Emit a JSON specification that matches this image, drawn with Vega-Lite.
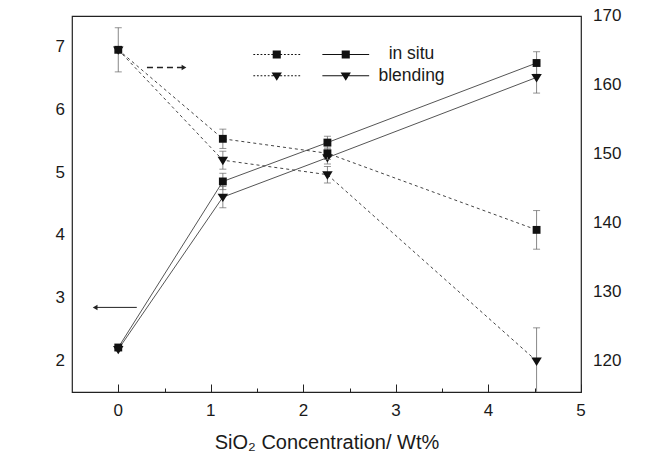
{
  "$schema": "https://vega.github.io/schema/vega-lite/v6.json",
  "width": 509,
  "height": 376,
  "autosize": "none",
  "padding": {"left": 72, "top": 16, "right": 68, "bottom": 73},
  "background": "white",
  "config": {
    "view": {"stroke": "#222", "strokeWidth": 1.2},
    "axis": {"grid": false, "domain": false, "tickColor": "#222", "zindex": 1},
    "text": {"font": "Liberation Sans", "fontSize": 17, "color": "#1a1a1a"}
  },
  "datasets": {
    "tensile": [
      {"x": 0, "v": 2.21, "series": "in situ"},
      {"x": 1.13, "v": 4.86, "lo": 4.73, "hi": 4.99, "series": "in situ"},
      {"x": 2.26, "v": 5.48, "lo": 5.38, "hi": 5.58, "series": "in situ"},
      {"x": 4.52, "v": 6.75, "lo": 6.57, "hi": 6.93, "series": "in situ"},
      {"x": 0, "v": 2.18, "series": "blending"},
      {"x": 1.13, "v": 4.61, "lo": 4.44, "hi": 4.78, "series": "blending"},
      {"x": 2.26, "v": 5.24, "lo": 5.14, "hi": 5.34, "series": "blending"},
      {"x": 4.52, "v": 6.52, "lo": 6.27, "hi": 6.77, "series": "blending"}
    ],
    "elong": [
      {"x": 0, "v": 165.1, "lo": 161.9, "hi": 168.3, "series": "in situ"},
      {"x": 1.13, "v": 152.2, "lo": 150.8, "hi": 153.6, "series": "in situ"},
      {"x": 2.26, "v": 150.1, "lo": 149.2, "hi": 151.0, "series": "in situ"},
      {"x": 4.52, "v": 139.0, "lo": 136.2, "hi": 141.8, "series": "in situ"},
      {"x": 0, "v": 165.1, "series": "blending"},
      {"x": 1.13, "v": 149.1, "lo": 147.8, "hi": 150.4, "series": "blending"},
      {"x": 2.26, "v": 147.0, "lo": 145.8, "hi": 148.2, "series": "blending"},
      {"x": 4.52, "v": 120.0, "lo": 115.2, "hi": 124.8, "series": "blending"}
    ],
    "arrows": [
      {"start": 0.2, "end": -0.25, "y": 2.85, "dir": "left"},
      {"start": 0.31, "end": 0.71, "y": 6.68, "dir": "right"}
    ],
    "xlabels": [
      {"t": 0, "s": "0"}, {"t": 1, "s": "1"}, {"t": 2, "s": "2"},
      {"t": 3, "s": "3"}, {"t": 4, "s": "4"}, {"t": 5, "s": "5"}
    ],
    "ylabels": [
      {"t": 2, "s": "2"}, {"t": 3, "s": "3"}, {"t": 4, "s": "4"},
      {"t": 5, "s": "5"}, {"t": 6, "s": "6"}, {"t": 7, "s": "7"}
    ],
    "rlabels": [
      {"t": 120, "s": "120"}, {"t": 130, "s": "130"}, {"t": 140, "s": "140"},
      {"t": 150, "s": "150"}, {"t": 160, "s": "160"}, {"t": 170, "s": "170"}
    ]
  },
  "layer": [
    {
      "data": {"name": "tensile"},
      "encoding": {
        "x": {
          "field": "x", "type": "quantitative",
          "scale": {"domain": [-0.5, 5], "nice": false, "zero": false},
          "axis": {"orient": "bottom", "title": null, "labels": false, "values": [0, 1, 2, 3, 4, 5], "tickSize": -8}
        }
      },
      "layer": [
        {
          "mark": {"type": "line", "color": "#555", "strokeWidth": 1},
          "encoding": {
            "y": {
              "field": "v", "type": "quantitative",
              "scale": {"domain": [1.5, 7.5], "nice": false, "zero": false},
              "axis": {
                "orient": "left", "title": "tensile strength/ MPa", "labels": false,
                "values": [2.5, 3.5, 4.5, 5.5, 6.5], "tickSize": -5,
                "titleFont": "Liberation Sans", "titleFontSize": 20, "titleFontWeight": "normal", "titleColor": "#1a1a1a",
                "titlePadding": 39
              }
            },
            "detail": {"field": "series"}
          }
        },
        {
          "mark": {"type": "rule", "color": "#888", "strokeWidth": 1, "clip": true},
          "encoding": {
            "y": {"field": "lo", "type": "quantitative", "scale": {"domain": [1.5, 7.5], "nice": false, "zero": false}, "axis": null},
            "y2": {"field": "hi"}
          }
        },
        {
          "mark": {"type": "tick", "orient": "horizontal", "size": 7, "thickness": 1, "color": "#666"},
          "encoding": {"y": {"field": "lo", "type": "quantitative", "scale": {"domain": [1.5, 7.5], "nice": false, "zero": false}, "axis": null}}
        },
        {
          "mark": {"type": "tick", "orient": "horizontal", "size": 7, "thickness": 1, "color": "#666"},
          "encoding": {"y": {"field": "hi", "type": "quantitative", "scale": {"domain": [1.5, 7.5], "nice": false, "zero": false}, "axis": null}}
        },
        {
          "transform": [{"filter": "datum.series === 'in situ'"}],
          "mark": {"type": "point", "filled": true, "size": 110, "color": "#111", "opacity": 1, "shape": "M-0.75,-0.75H0.75V0.75H-0.75Z"},
          "encoding": {"y": {"field": "v", "type": "quantitative", "scale": {"domain": [1.5, 7.5], "nice": false, "zero": false}, "axis": null}}
        },
        {
          "transform": [{"filter": "datum.series === 'blending'"}],
          "mark": {"type": "point", "filled": true, "size": 110, "color": "#111", "opacity": 1, "shape": "M-1,-0.65H1L0,0.95Z"},
          "encoding": {"y": {"field": "v", "type": "quantitative", "scale": {"domain": [1.5, 7.5], "nice": false, "zero": false}, "axis": null}}
        },
        {
          "mark": {"type": "point", "filled": true, "size": 81, "color": "#111", "opacity": 0},
          "encoding": {
            "y": {"field": "v", "type": "quantitative", "scale": {"domain": [1.5, 7.5], "nice": false, "zero": false}, "axis": null},
            "shape": {
              "field": "series", "type": "nominal",
              "scale": {"domain": ["in situ", "blending"], "range": ["M-5.2,-0.11H-0.9V0.11H-5.2ZM0.9,-0.11H5.2V0.11H0.9ZM-0.9,-0.9H0.9V0.9H-0.9Z", "M-5.2,-0.11H-0.7V0.11H-5.2ZM0.7,-0.11H5.2V0.11H0.7ZM-1.15,-0.75H1.15L0,1.1Z"]},
              "legend": {
                "orient": "none", "legendX": 265, "legendY": 29.7, "title": null,
                "symbolSize": 81, "symbolOpacity": 1, "symbolFillColor": "#111",
                "labelFontSize": 17.5, "labelFont": "Liberation Sans", "labelColor": "#1a1a1a",
                "labelAlign": "center", "labelOffset": 57, "rowPadding": 2.3
              }
            }
          }
        }
      ]
    },
    {
      "data": {"name": "elong"},
      "encoding": {
        "x": {
          "field": "x", "type": "quantitative",
          "scale": {"domain": [-0.5, 5], "nice": false, "zero": false},
          "axis": {
            "orient": "bottom", "title": "SiO₂ Concentration/ Wt%", "labels": false,
            "titleFont": "Liberation Sans", "titleFontSize": 20, "titleFontWeight": "normal", "titleColor": "#1a1a1a",
            "titlePadding": 40,
            "values": [0.5, 1.5, 2.5, 3.5, 4.5], "tickSize": -4
          }
        }
      },
      "layer": [
        {
          "mark": {"type": "line", "color": "#444", "strokeWidth": 1, "strokeDash": [3, 3]},
          "encoding": {
            "y": {
              "field": "v", "type": "quantitative",
              "scale": {"domain": [115.5, 170], "nice": false, "zero": false},
              "axis": {
                "orient": "right", "title": "Elongation at break/ %", "labels": false,
                "values": [120, 125, 130, 135, 140, 145, 150, 155, 160, 165, 170], "tickSize": -7,
                "titleFont": "Liberation Sans", "titleFontSize": 20, "titleFontWeight": "normal", "titleColor": "#1a1a1a",
                "titleAngle": 270, "titleBaseline": "top", "titlePadding": 43
              }
            },
            "detail": {"field": "series"}
          }
        },
        {
          "mark": {"type": "rule", "color": "#888", "strokeWidth": 1, "clip": true},
          "encoding": {
            "y": {"field": "lo", "type": "quantitative", "scale": {"domain": [115.5, 170], "nice": false, "zero": false}, "axis": null},
            "y2": {"field": "hi"}
          }
        },
        {
          "mark": {"type": "tick", "orient": "horizontal", "size": 7, "thickness": 1, "color": "#666", "clip": true},
          "encoding": {"y": {"field": "lo", "type": "quantitative", "scale": {"domain": [115.5, 170], "nice": false, "zero": false}, "axis": null}}
        },
        {
          "mark": {"type": "tick", "orient": "horizontal", "size": 7, "thickness": 1, "color": "#666"},
          "encoding": {"y": {"field": "hi", "type": "quantitative", "scale": {"domain": [115.5, 170], "nice": false, "zero": false}, "axis": null}}
        },
        {
          "transform": [{"filter": "datum.series === 'in situ'"}],
          "mark": {"type": "point", "filled": true, "size": 110, "color": "#111", "opacity": 1, "shape": "M-0.75,-0.75H0.75V0.75H-0.75Z"},
          "encoding": {"y": {"field": "v", "type": "quantitative", "scale": {"domain": [115.5, 170], "nice": false, "zero": false}, "axis": null}}
        },
        {
          "transform": [{"filter": "datum.series === 'blending'"}],
          "mark": {"type": "point", "filled": true, "size": 110, "color": "#111", "opacity": 1, "shape": "M-1,-0.65H1L0,0.95Z"},
          "encoding": {"y": {"field": "v", "type": "quantitative", "scale": {"domain": [115.5, 170], "nice": false, "zero": false}, "axis": null}}
        },
        {
          "mark": {"type": "point", "filled": true, "size": 81, "color": "#111", "opacity": 0},
          "encoding": {
            "y": {"field": "v", "type": "quantitative", "scale": {"domain": [115.5, 170], "nice": false, "zero": false}, "axis": null},
            "shape": {
              "field": "series", "type": "nominal",
              "scale": {"domain": ["in situ", "blending"], "range": [
                "M-5.2,-0.11H-4.8V0.11H-5.2ZM-4.4,-0.11H-4V0.11H-4.4ZM-3.6,-0.11H-3.2V0.11H-3.6ZM-2.8,-0.11H-2.4V0.11H-2.8ZM-2,-0.11H-1.6V0.11H-2ZM-1.2,-0.11H-0.9V0.11H-1.2ZM0.9,-0.11H1.2V0.11H0.9ZM1.6,-0.11H2V0.11H1.6ZM2.4,-0.11H2.8V0.11H2.4ZM3.2,-0.11H3.6V0.11H3.2ZM4,-0.11H4.4V0.11H4ZM4.8,-0.11H5.2V0.11H4.8ZM-0.9,-0.9H0.9V0.9H-0.9Z",
                "M-5.2,-0.11H-4.8V0.11H-5.2ZM-4.4,-0.11H-4V0.11H-4.4ZM-3.6,-0.11H-3.2V0.11H-3.6ZM-2.8,-0.11H-2.4V0.11H-2.8ZM-2,-0.11H-1.6V0.11H-2ZM-1.2,-0.11H-0.7V0.11H-1.2ZM0.7,-0.11H1.2V0.11H0.7ZM1.6,-0.11H2V0.11H1.6ZM2.4,-0.11H2.8V0.11H2.4ZM3.2,-0.11H3.6V0.11H3.2ZM4,-0.11H4.4V0.11H4ZM4.8,-0.11H5.2V0.11H4.8ZM-1.15,-0.75H1.15L0,1.1Z"
              ]},
              "legend": {
                "orient": "none", "legendX": 196, "legendY": 29.7, "title": null,
                "symbolSize": 81, "symbolOpacity": 1, "symbolFillColor": "#111",
                "labelFontSize": 17.5, "labelOpacity": 0, "rowPadding": 2.3
              }
            }
          }
        }
      ]
    },
    {
      "data": {"name": "arrows"},
      "layer": [
        {
          "transform": [{"filter": "datum.dir === 'left'"}],
          "mark": {"type": "rule", "color": "#222", "strokeWidth": 1},
          "encoding": {
            "x": {"field": "start", "type": "quantitative", "scale": {"domain": [-0.5, 5], "nice": false, "zero": false}, "axis": null},
            "x2": {"field": "end"},
            "y": {"field": "y", "type": "quantitative", "scale": {"domain": [1.5, 7.5], "nice": false, "zero": false}, "axis": null}
          }
        },
        {
          "transform": [{"filter": "datum.dir === 'left'"}],
          "mark": {"type": "point", "shape": "triangle-left", "filled": true, "size": 30, "color": "#222", "opacity": 1},
          "encoding": {
            "x": {"field": "end", "type": "quantitative", "scale": {"domain": [-0.5, 5], "nice": false, "zero": false}, "axis": null},
            "y": {"field": "y", "type": "quantitative", "scale": {"domain": [1.5, 7.5], "nice": false, "zero": false}, "axis": null}
          }
        },
        {
          "transform": [{"filter": "datum.dir === 'right'"}],
          "mark": {"type": "rule", "color": "#222", "strokeWidth": 1.5, "strokeDash": [6, 4]},
          "encoding": {
            "x": {"field": "start", "type": "quantitative", "scale": {"domain": [-0.5, 5], "nice": false, "zero": false}, "axis": null},
            "x2": {"field": "end"},
            "y": {"field": "y", "type": "quantitative", "scale": {"domain": [1.5, 7.5], "nice": false, "zero": false}, "axis": null}
          }
        },
        {
          "transform": [{"filter": "datum.dir === 'right'"}],
          "mark": {"type": "point", "shape": "triangle-right", "filled": true, "size": 30, "color": "#222", "opacity": 1},
          "encoding": {
            "x": {"field": "end", "type": "quantitative", "scale": {"domain": [-0.5, 5], "nice": false, "zero": false}, "axis": null},
            "y": {"field": "y", "type": "quantitative", "scale": {"domain": [1.5, 7.5], "nice": false, "zero": false}, "axis": null}
          }
        }
      ]
    },
    {
      "data": {"name": "xlabels"},
      "mark": {"type": "text", "align": "center", "baseline": "middle", "dy": 19},
      "encoding": {
        "x": {"field": "t", "type": "quantitative", "scale": {"domain": [-0.5, 5], "nice": false, "zero": false}, "axis": null},
        "y": {"datum": 1.5, "type": "quantitative", "scale": {"domain": [1.5, 7.5], "nice": false, "zero": false}, "axis": null},
        "text": {"field": "s", "type": "nominal"}
      }
    },
    {
      "data": {"name": "ylabels"},
      "mark": {"type": "text", "align": "right", "baseline": "middle", "dx": -7},
      "encoding": {
        "x": {"datum": -0.5, "type": "quantitative", "scale": {"domain": [-0.5, 5], "nice": false, "zero": false}, "axis": null},
        "y": {"field": "t", "type": "quantitative", "scale": {"domain": [1.5, 7.5], "nice": false, "zero": false}, "axis": null},
        "text": {"field": "s", "type": "nominal"}
      }
    },
    {
      "data": {"name": "rlabels"},
      "mark": {"type": "text", "align": "left", "baseline": "middle", "dx": 12},
      "encoding": {
        "x": {"datum": 5, "type": "quantitative", "scale": {"domain": [-0.5, 5], "nice": false, "zero": false}, "axis": null},
        "y": {"field": "t", "type": "quantitative", "scale": {"domain": [115.5, 170], "nice": false, "zero": false}, "axis": null},
        "text": {"field": "s", "type": "nominal"}
      }
    }
  ],
  "resolve": {"scale": {"y": "independent", "shape": "independent"}, "axis": {"x": "independent"}, "legend": {"shape": "independent"}}
}
